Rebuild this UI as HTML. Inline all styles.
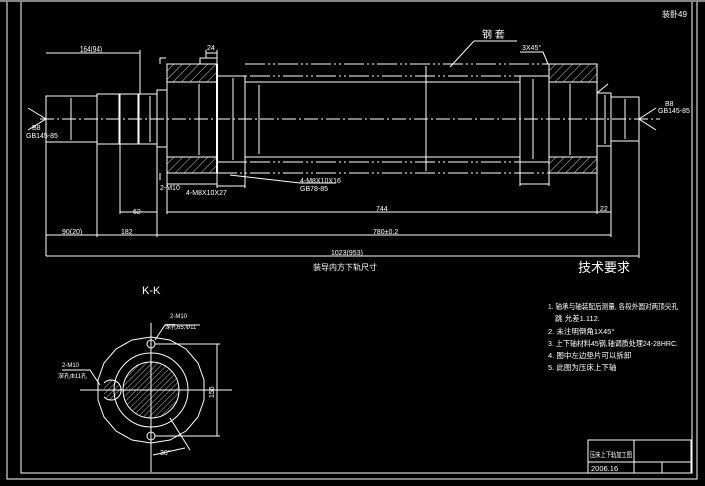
<!DOCTYPE html>
<html><head><meta charset="utf-8"><style>
html,body{margin:0;padding:0;background:#000;width:705px;height:486px;overflow:hidden}
svg{display:block}
text{font-family:"Liberation Sans","Noto Sans CJK SC",sans-serif;fill:#fff}
</style></head><body>
<svg width="705" height="486" viewBox="0 0 705 486" xmlns="http://www.w3.org/2000/svg">
<defs>
<pattern id="h" width="6" height="6" patternUnits="userSpaceOnUse" patternTransform="rotate(45)">
<line x1="0" y1="0" x2="0" y2="6" stroke="#fff" stroke-width="0.8"/></pattern>
<pattern id="h2" width="4" height="4" patternUnits="userSpaceOnUse" patternTransform="rotate(45)">
<line x1="0" y1="0" x2="0" y2="4" stroke="#fff" stroke-width="0.7"/></pattern>
</defs>
<rect x="0" y="0" width="705" height="2" fill="#888"/>
<g fill="none" stroke="#fff" stroke-width="1">
<polyline points="7,2 7,479 697,479 697,2"/>
<polyline points="21,2 21,473 692,473 692,2"/>
<line x1="40" y1="119" x2="660" y2="119" stroke-dasharray="14,3,2,3"/>
<rect x="46" y="96" width="51" height="46"/>
<rect x="97" y="94" width="23" height="50"/>
<line x1="119" y1="94" x2="119" y2="144"/>
<rect x="120" y="94" width="18" height="50"/>
<rect x="139" y="94" width="18" height="50"/>
<rect x="157" y="90" width="10" height="57"/>
<rect x="167" y="64" width="50" height="18" fill="url(#h)"/>
<rect x="167" y="157" width="50" height="16" fill="url(#h)"/>
<rect x="167" y="64" width="50" height="109"/>
<rect x="200" y="58" width="17" height="6"/>
<rect x="217" y="76" width="28" height="86"/>
<line x1="217" y1="64" x2="217" y2="173" stroke-width="2"/>
<line x1="245" y1="64" x2="597" y2="64" stroke-dasharray="20,3,2,3,2,3"/>
<line x1="217" y1="76" x2="520" y2="76" stroke-dasharray="20,3,2,3,2,3"/>
<line x1="245" y1="82" x2="520" y2="82"/>
<line x1="245" y1="157" x2="520" y2="157"/>
<line x1="217" y1="162" x2="520" y2="162" stroke-dasharray="20,3,2,3,2,3"/>
<line x1="217" y1="173" x2="597" y2="173" stroke-dasharray="20,3,2,3,2,3"/>
<rect x="520" y="76" width="29" height="86"/>
<rect x="549" y="64" width="48" height="18" fill="url(#h)"/>
<rect x="549" y="157" width="48" height="16" fill="url(#h)"/>
<rect x="549" y="64" width="48" height="109"/>
<rect x="597" y="93" width="14" height="53"/>
<line x1="605" y1="95" x2="605" y2="144"/>
<rect x="611" y="97" width="28" height="44"/>
<line x1="259" y1="85" x2="259" y2="154"/>
<line x1="426" y1="66" x2="426" y2="171"/>
<line x1="233" y1="78" x2="233" y2="160"/>
<line x1="199" y1="84" x2="199" y2="155"/>
<line x1="533" y1="79" x2="533" y2="159"/>
<line x1="570" y1="84" x2="570" y2="155"/>
<line x1="71" y1="98" x2="71" y2="140"/>
<line x1="150" y1="96" x2="150" y2="142"/>
<line x1="625" y1="99" x2="625" y2="139"/>
<polyline points="28,108 46,119 28,130"/>
<polyline points="656,108 639,119 656,130"/>
<line x1="46" y1="96" x2="46" y2="256"/>
<line x1="140" y1="50" x2="140" y2="94"/>
<line x1="46" y1="53" x2="140" y2="53"/>
<line x1="206" y1="53" x2="217" y2="53"/>
<line x1="206" y1="50" x2="206" y2="58"/>
<line x1="217" y1="50" x2="217" y2="58"/>
<polyline points="160,64 160,58 166,58"/>
<polyline points="160,173 160,180"/>
<polyline points="450,67 474,41 517,41"/>
<polyline points="520,52 543,52 548,64"/>
<line x1="597" y1="93" x2="608" y2="84"/>
<polyline points="230,175 300,183 336,183"/>
<line x1="97" y1="144" x2="97" y2="237"/>
<line x1="120" y1="144" x2="120" y2="214"/>
<line x1="157" y1="147" x2="157" y2="237"/>
<line x1="167" y1="173" x2="167" y2="214"/>
<line x1="120" y1="212" x2="157" y2="212"/>
<line x1="167" y1="212" x2="597" y2="212"/>
<line x1="597" y1="162" x2="597" y2="214"/>
<line x1="611" y1="146" x2="611" y2="237"/>
<line x1="597" y1="212" x2="611" y2="212"/>
<line x1="46" y1="235" x2="611" y2="235"/>
<line x1="46" y1="256" x2="639" y2="256"/>
<line x1="639" y1="141" x2="639" y2="258"/>
<line x1="520" y1="162" x2="520" y2="186"/>
<line x1="549" y1="173" x2="549" y2="186"/>
<line x1="520" y1="184" x2="549" y2="184"/>
<line x1="167" y1="184" x2="217" y2="184"/>
<line x1="217" y1="173" x2="217" y2="188"/>
<line x1="245" y1="162" x2="245" y2="188"/>
<line x1="217" y1="186" x2="245" y2="186"/>
<line x1="80" y1="390" x2="232" y2="390"/>
<line x1="151" y1="323" x2="151" y2="472"/>
<polygon points="151,337 170,340 186,349 198,363 204,380 204,400 198,417 186,431 170,440 151,443 132,440 116,431 104,417 98,400 98,380 104,363 116,349 132,340"/>
<circle cx="151" cy="390" r="37"/>
<circle cx="151" cy="390" r="28" fill="url(#h2)"/>
<circle cx="151" cy="344" r="4"/>
<circle cx="151" cy="436" r="4"/>
<path d="M104,383 A10,10 0 1 1 104,397" fill="url(#h2)"/>
<line x1="155" y1="344" x2="220" y2="344"/>
<line x1="155" y1="436" x2="220" y2="436"/>
<line x1="217" y1="344" x2="217" y2="436"/>
<polyline points="155,340 165,325 200,325"/>
<polyline points="100,385 90,370 62,370"/>
<line x1="170" y1="418" x2="190" y2="450"/>
<line x1="153" y1="455" x2="185" y2="448"/>
<rect x="588" y="440" width="103" height="33"/>
<line x1="588" y1="462" x2="691" y2="462"/>
<line x1="634" y1="440" x2="634" y2="473"/>
<line x1="662" y1="462" x2="662" y2="473"/>
</g>
<g font-size="8">
<text x="80" y="52" textLength="22" lengthAdjust="spacingAndGlyphs">164(94)</text>
<text x="207" y="50" font-size="7">24</text>
<text x="482" y="38" font-size="10">钢 套</text>
<text x="522" y="50" font-size="7">3X45°</text>
<text x="32" y="130" font-size="7">B8</text>
<text x="26" y="138" font-size="7">GB145-85</text>
<text x="665" y="106" font-size="7">B8</text>
<text x="658" y="113" font-size="7">GB145-85</text>
<text x="133" y="214" font-size="7">62</text>
<text x="376" y="211" font-size="7">744</text>
<text x="600" y="211" font-size="7">22</text>
<text x="62" y="234" font-size="7">90(20)</text>
<text x="121" y="234" font-size="7">182</text>
<text x="373" y="234" font-size="7">780±0.2</text>
<text x="331" y="255" font-size="7">1023(953)</text>
<text x="300" y="183" font-size="7">4-M8X10X16</text>
<text x="300" y="191" font-size="7">GB78-85</text>
<text x="186" y="195" font-size="7">4-M8X10X27</text>
<text x="160" y="190" font-size="7">2-M10</text>
<text x="313" y="270" font-size="8">装导内方下轨尺寸</text>
<text x="578" y="272" font-size="13">技术要求</text>
<text x="662" y="17" font-size="8">装卧49</text>
<text x="142" y="294" font-size="11">K-K</text>
<text x="170" y="318" font-size="6">2-M10</text>
<text x="165" y="329" font-size="6">深孔65,Φ11</text>
<text x="62" y="367" font-size="6">2-M10</text>
<text x="58" y="378" font-size="6">深孔Φ11孔</text>
<text x="214" y="398" font-size="7" transform="rotate(-90 214 398)">156</text>
<text x="160" y="455" font-size="7">30°</text>
<text x="548" y="309" font-size="7.5" textLength="130" lengthAdjust="spacingAndGlyphs">1. 轴承与轴装配后测量, 各段外圆对两顶尖孔</text>
<text x="555" y="321" font-size="7.5">跳 允差1.112.</text>
<text x="548" y="334" font-size="7.5">2. 未注明倒角1X45°</text>
<text x="548" y="346" font-size="7.5" textLength="130" lengthAdjust="spacingAndGlyphs">3. 上下轴材料45钢,轴调质处理24-28HRC.</text>
<text x="548" y="358" font-size="7.5">4. 图中左边垫片可以拆卸</text>
<text x="548" y="370" font-size="7.5">5. 此图为压床上下轴</text>
<text x="590" y="457" font-size="7" textLength="42" lengthAdjust="spacingAndGlyphs">压床上下轨加工图</text>
<text x="591" y="471" font-size="7.5">2006.16</text>
</g>
</svg>
</body></html>
